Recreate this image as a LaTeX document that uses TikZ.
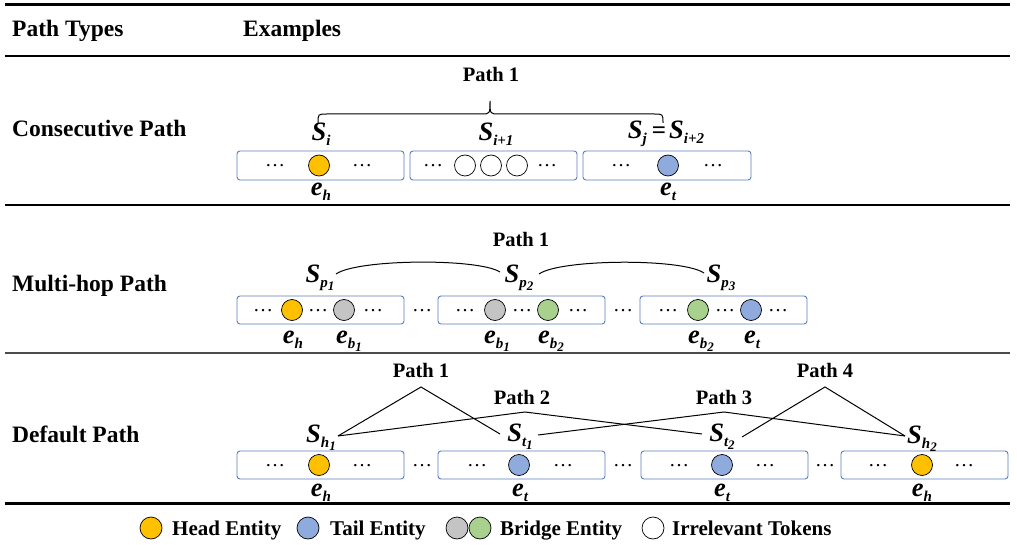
\documentclass[tikz,border=0pt]{standalone}
\usepackage{fontspec}
\setmainfont{Liberation Serif}
\definecolor{boxc}{HTML}{5B7DBE}
\definecolor{headc}{HTML}{FFC000}
\definecolor{tailc}{HTML}{8FAADC}
\definecolor{grayc}{HTML}{C4C4C4}
\definecolor{greenc}{HTML}{A9D18E}
\newcommand\symb[2]{\textbf{\textit{\fontsize{26.5}{26}\selectfont #1\raisebox{-5pt}{\fontsize{15}{15}\selectfont #2}}}}
\newcommand\subsub[1]{\raisebox{-3pt}{\fontsize{13}{12}\selectfont #1}}
\begin{document}
\begin{tikzpicture}[x=1pt,y=-1pt,
  tokbox/.style={draw=boxc, line width=0.9pt, rounded corners=3pt, minimum width=167pt, minimum height=29pt, inner sep=0pt},
  ent/.style={circle, draw=black, line width=0.7pt, minimum size=21pt, inner sep=0pt},
  dts/.style={font=\fontsize{20}{20}\selectfont, inner sep=0pt},
  rowlbl/.style={font=\bfseries\fontsize{23.5}{24}\selectfont, inner sep=0pt, anchor=base west},
  pathlbl/.style={font=\bfseries\fontsize{20.5}{21}\selectfont, inner sep=0pt},
  leglbl/.style={font=\bfseries\fontsize{21}{21}\selectfont, inner sep=0pt, anchor=base west},
  symlbl/.style={inner sep=0pt},
  conn/.style={line width=1pt}
]
\useasboundingbox (0,0) rectangle (1017,545);
% rules
\draw[line width=3pt] (5,5) -- (1010,5);
\draw[line width=2pt] (5,56) -- (1010,56);
\draw[line width=2.5pt] (5,205) -- (1010,205);
\draw[line width=2pt, black!70] (5,353) -- (1010,353);
\draw[line width=3pt] (5,503) -- (1010,503);
% header
\node[rowlbl] (hd1) at (12,37) {Path Types};
\node[rowlbl] (hd2) at (243,37) {Examples};
% row labels
\node[rowlbl] (r1) at (12,137) {Consecutive Path};
\node[rowlbl] (r2) at (12,291) {Multi-hop Path};
\node[rowlbl] (r3) at (12,442) {Default Path};

% ---------------- Row 1 ----------------
\node[tokbox] (b11) at (320.5,165.5) {};
\node[tokbox] (b12) at (493.5,165.5) {};
\node[tokbox, minimum width=168pt] (b13) at (667,165.5) {};
\node[dts] (d111) at (275,166) {…};
\node[ent, fill=headc] (c11) at (319,165.5) {};
\node[dts] (d112) at (362,166) {…};
\node[dts] (d121) at (433,166) {…};
\node[ent, fill=white] (c121) at (465,165.5) {};
\node[ent, fill=white] (c122) at (491,165.5) {};
\node[ent, fill=white] (c123) at (517,165.5) {};
\node[dts] (d122) at (547,166) {…};
\node[dts] (d131) at (621,166) {…};
\node[ent, fill=tailc] (c13) at (668,165.5) {};
\node[dts] (d132) at (713,166) {…};
\node[symlbl] (si) at (321,134) {\symb{S}{i}};
\node[symlbl] (si1) at (496,134) {\symb{S}{i+1}};
\node[symlbl] (sj) at (666,134) {\symb{S}{j}\hspace{5pt}\textbf{\fontsize{25}{25}\selectfont=}\hspace{3pt}\symb{S}{i+2}};
\node[symlbl] (e11) at (321,192) {\symb{e}{h}};
\node[symlbl] (e13) at (668,192) {\symb{e}{t}};
\node[pathlbl] (p11) at (491,74) {Path 1};
\draw[conn] (318,123) .. controls (318,114) .. (327,114) -- (481,114) .. controls (490,114) .. (490,101)
  .. controls (490,114) .. (499,114) -- (654,114) .. controls (663,114) .. (663,123);

% ---------------- Row 2 ----------------
\node[tokbox, minimum height=28pt] (b21) at (320.5,310) {};
\node[tokbox, minimum height=28pt] (b22) at (521.5,310) {};
\node[tokbox, minimum height=28pt] (b23) at (723.5,310) {};
\node[dts] (d211) at (263,311) {…};
\node[ent, fill=headc] (c211) at (292,310) {};
\node[dts] (d212) at (318,311) {…};
\node[ent, fill=grayc] (c212) at (344,310) {};
\node[dts] (d213) at (373,311) {…};
\node[dts] (g21) at (422,311) {…};
\node[dts] (d221) at (465,311) {…};
\node[ent, fill=grayc] (c221) at (495,310) {};
\node[dts] (d222) at (522,311) {…};
\node[ent, fill=greenc] (c222) at (548,310) {};
\node[dts] (d223) at (578,311) {…};
\node[dts] (g22) at (623,311) {…};
\node[dts] (d231) at (668,311) {…};
\node[ent, fill=greenc] (c231) at (698,310) {};
\node[dts] (d232) at (725,311) {…};
\node[ent, fill=tailc] (c232) at (751,310) {};
\node[dts] (d233) at (778,311) {…};
\node[symlbl] (sp1) at (320,278) {\symb{S}{p\subsub{1}}};
\node[symlbl] (sp2) at (519,278) {\symb{S}{p\subsub{2}}};
\node[symlbl] (sp3) at (721,278) {\symb{S}{p\subsub{3}}};
\node[symlbl] (e211) at (293,340) {\symb{e}{h}};
\node[symlbl] (e212) at (349,341) {\symb{e}{b\subsub{1}}};
\node[symlbl] (e221) at (497,341) {\symb{e}{b\subsub{1}}};
\node[symlbl] (e222) at (551,341) {\symb{e}{b\subsub{2}}};
\node[symlbl] (e231) at (701,341) {\symb{e}{b\subsub{2}}};
\node[symlbl] (e232) at (752,340) {\symb{e}{t}};
\node[pathlbl] (p21) at (521,239) {Path 1};
\coordinate (sp1r) at (336,274);
\coordinate (sp2l) at (500,272);
\coordinate (sp2r) at (539,274);
\coordinate (sp3l) at (704,273);
\draw[conn] (sp1r) .. controls (357,259) and (478,258) .. (sp2l);
\draw[conn] (sp2r) .. controls (560,259) and (682,258) .. (sp3l);

% ---------------- Row 3 ----------------
\node[tokbox, minimum height=28pt] (b31) at (320.5,465) {};
\node[tokbox, minimum height=28pt] (b32) at (521.5,465) {};
\node[tokbox, minimum height=28pt] (b33) at (724.5,465) {};
\node[tokbox, minimum height=28pt] (b34) at (924.5,465) {};
\node[dts] (d311) at (275,466) {…};
\node[ent, fill=headc] (c31) at (319,465) {};
\node[dts] (d312) at (362,466) {…};
\node[dts] (g31) at (422,466) {…};
\node[dts] (d321) at (477,466) {…};
\node[ent, fill=tailc] (c32) at (519,465) {};
\node[dts] (d322) at (563,466) {…};
\node[dts] (g32) at (623,466) {…};
\node[dts] (d331) at (679,466) {…};
\node[ent, fill=tailc] (c33) at (722,465) {};
\node[dts] (d332) at (765,466) {…};
\node[dts] (g33) at (825,466) {…};
\node[dts] (d341) at (878,466) {…};
\node[ent, fill=headc] (c34) at (922,465) {};
\node[dts] (d342) at (964,466) {…};
\node[symlbl] (sh1) at (321,438) {\symb{S}{h\subsub{1}}};
\node[symlbl] (st1) at (520,437) {\symb{S}{t\subsub{1}}};
\node[symlbl] (st2) at (722,437) {\symb{S}{t\subsub{2}}};
\node[symlbl] (sh2) at (922,439) {\symb{S}{h\subsub{2}}};
\node[symlbl] (e31) at (321,493) {\symb{e}{h}};
\node[symlbl] (e32) at (520,493) {\symb{e}{t}};
\node[symlbl] (e33) at (722,493) {\symb{e}{t}};
\node[symlbl] (e34) at (922,493) {\symb{e}{h}};
\node[pathlbl] (q1) at (421,370) {Path 1};
\node[pathlbl] (q2) at (522,397) {Path 2};
\node[pathlbl] (q3) at (724,397) {Path 3};
\node[pathlbl] (q4) at (825,370) {Path 4};
\coordinate (q1a) at (421,387);
\coordinate (q2a) at (525,412);
\coordinate (q3a) at (724,412);
\coordinate (q4a) at (825,387);
\coordinate (sh1r) at (338,436);
\coordinate (st1l) at (500,434);
\coordinate (st1r) at (538,435);
\coordinate (st2l) at (702,434);
\coordinate (st2r) at (742,437);
\coordinate (sh2l) at (905,436);
\draw[conn] (sh1r) -- (q1a) -- (st1l);
\draw[conn] (sh1r) -- (q2a) -- (st2l);
\draw[conn] (st1r) -- (q3a) -- (sh2l);
\draw[conn] (st2r) -- (q4a) -- (sh2l);

% ---------------- Legend ----------------
\node[ent, minimum size=22pt, fill=headc] (lg1) at (151,528) {};
\node[leglbl] (lt1) at (172,535) {Head Entity};
\node[ent, minimum size=22pt, fill=tailc] (lg2) at (308,528) {};
\node[leglbl] (lt2) at (330,535) {Tail Entity};
\node[ent, minimum size=22pt, fill=grayc] (lg3) at (457,528) {};
\node[ent, minimum size=22pt, fill=greenc] (lg4) at (480,528) {};
\node[leglbl] (lt3) at (500,535) {Bridge Entity};
\node[ent, minimum size=22pt, fill=white] (lg5) at (653,528) {};
\node[leglbl] (lt4) at (672,535) {Irrelevant Tokens};
\end{tikzpicture}
\end{document}
